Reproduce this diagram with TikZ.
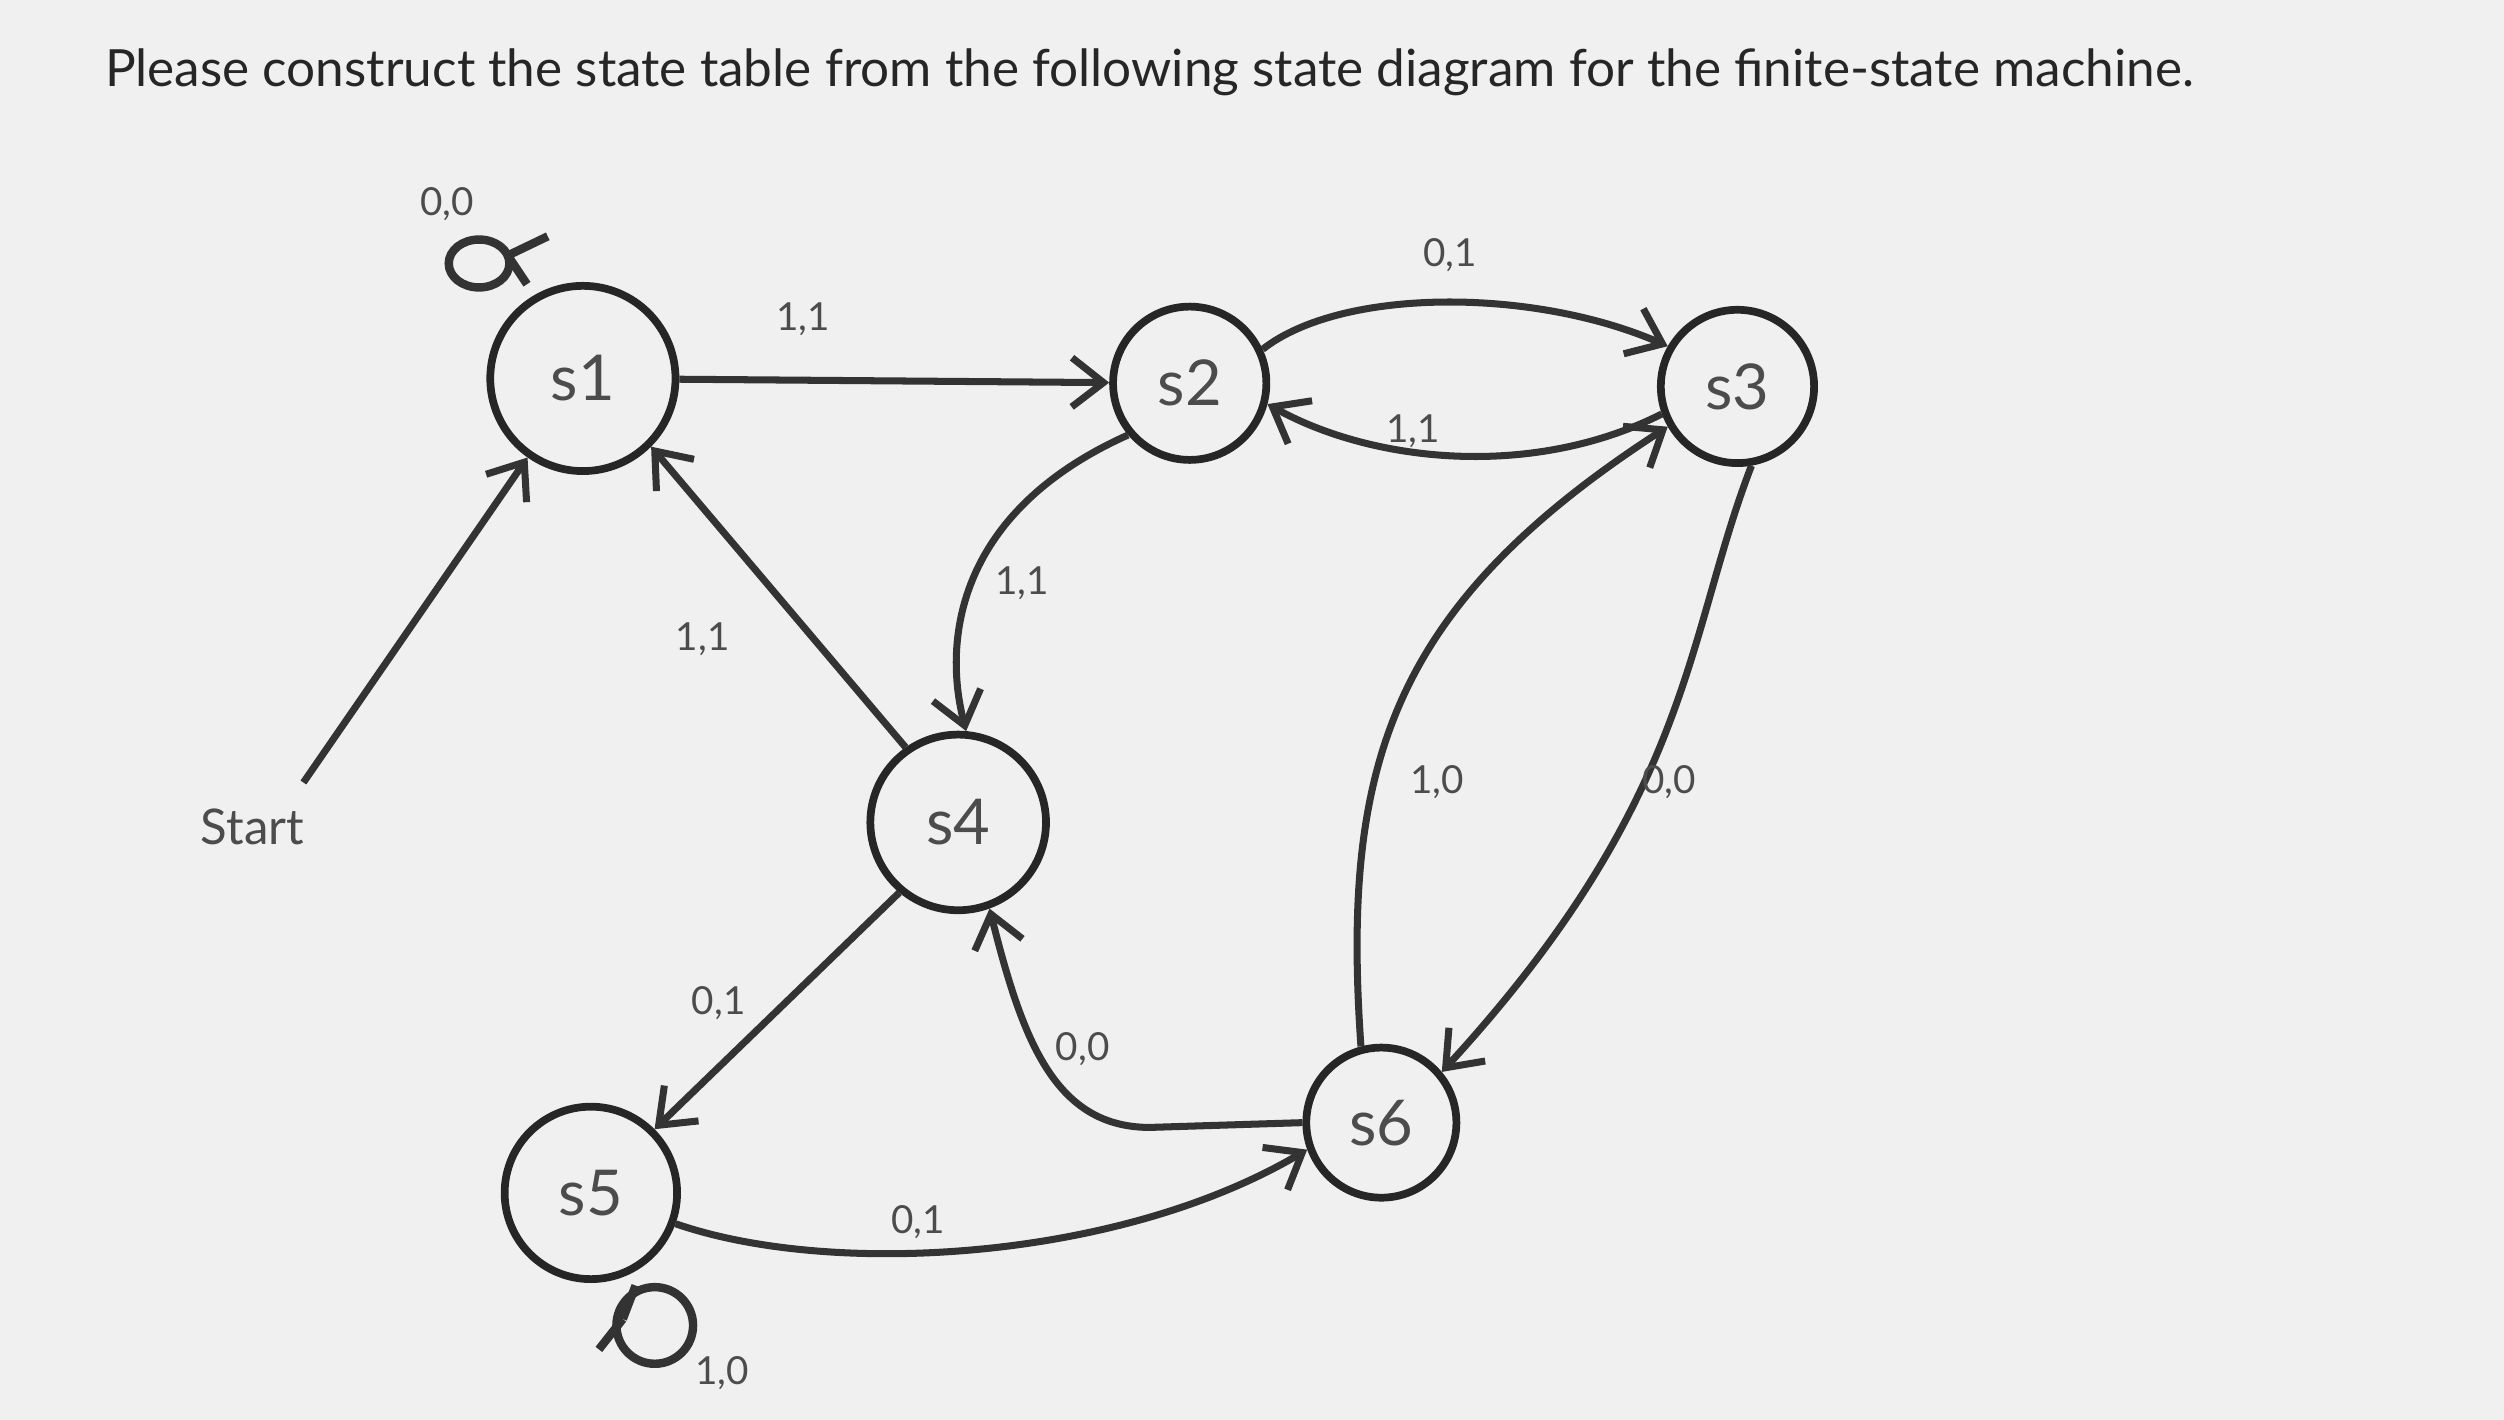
\documentclass[tikz,border=0pt]{standalone}
\usepackage{fontspec}
\setmainfont{Lato}
\usetikzlibrary{arrows.meta}
\begin{document}
\begin{tikzpicture}[x=0.01597cm,y=-0.01597cm,
  st/.style={draw=black!85,line width=2.2pt,circle,minimum size=#1*0.01597cm,inner sep=0pt,font=\fontsize{18}{20}\selectfont,text=black!70},
  st/.default=100,
  ed/.style={draw=black!80,line width=2pt,-{Straight Barb[length=9pt,width=14pt,line width=2pt]}},
  lp/.style={draw=black!80,line width=2.4pt},
  lb/.style={font=\fontsize{11}{12}\selectfont,text=black!70}]
\fill[black!6] (0,0) rectangle (1568,889);
\node[anchor=west,font=\fontsize{14.6}{16}\selectfont,text=black!85] (title) at (58,45) {Please construct the state table from the following state diagram for the finite-state machine.};
\node[st=116] (s1) at (365,237) {s1};
\node[st=96] (s2) at (745,240) {s2};
\node[st=96] (s3) at (1088,242) {s3};
\node[st=110] (s4) at (600,515) {s4};
\node[st=108] (s5) at (370,747) {s5};
\node[st=94] (s6) at (865,703) {s6};
\node[font=\fontsize{14}{15}\selectfont,text=black!70] (start) at (158,518) {Start};
\coordinate (st0) at (190,490);
\draw[ed] (st0) -- (s1.235);
\draw[lp] (300,165) circle[x radius=19,y radius=15];
\draw[lp] (318,160) -- (343,148);
\draw[lp] (318,160) -- (330,178);
\node[lb] (l00) at (280,128) {0,0};
\draw[ed] (s1) -- (s2);
\node[lb] (l11a) at (503,200) {1,1};
\draw[ed] (s2.25) .. controls (840,180) and (960,180) .. (s3.150);
\node[lb] (l01a) at (908,160) {0,1};
\draw[ed] (s3.200) .. controls (960,300) and (860,290) .. (s2.-15);
\node[lb] (l11b) at (885,270) {1,1};
\draw[ed] (s2.220) .. controls (600,320) and (590,400) .. (s4.85);
\node[lb] (l11c) at (640,365) {1,1};
\draw[ed] (s4.125) -- (s1.-45);
\node[lb] (l11d) at (440,400) {1,1};
\draw[ed] (s4.230) -- (s5.45);
\node[lb] (l01b) at (450,628) {0,1};
\draw[lp] (410,830) circle[radius=24];
\draw[lp] (390,826) -- (375,845);
\draw[lp] (390,826) -- (398,805);
\node[lb] (l10a) at (452,860) {1,0};
\draw[ed] (s5.-20) .. controls (520,800) and (700,790) .. (s6.200);
\node[lb] (l01c) at (575,765) {0,1};
\draw[ed] (s6.180) -- (720,706) .. controls (660,706) and (640,650) .. (s4.-70);
\node[lb] (l00b) at (678,657) {0,0};
\draw[ed] (s6.105) .. controls (840,480) and (870,380) .. (s3.210);
\node[lb] (l10b) at (900,490) {1,0};
\draw[ed] (s3.-80) .. controls (1055,400) and (1060,500) .. (s6.40);
\node[lb] (l00c) at (1045,490) {0,0};
\end{tikzpicture}
\end{document}
